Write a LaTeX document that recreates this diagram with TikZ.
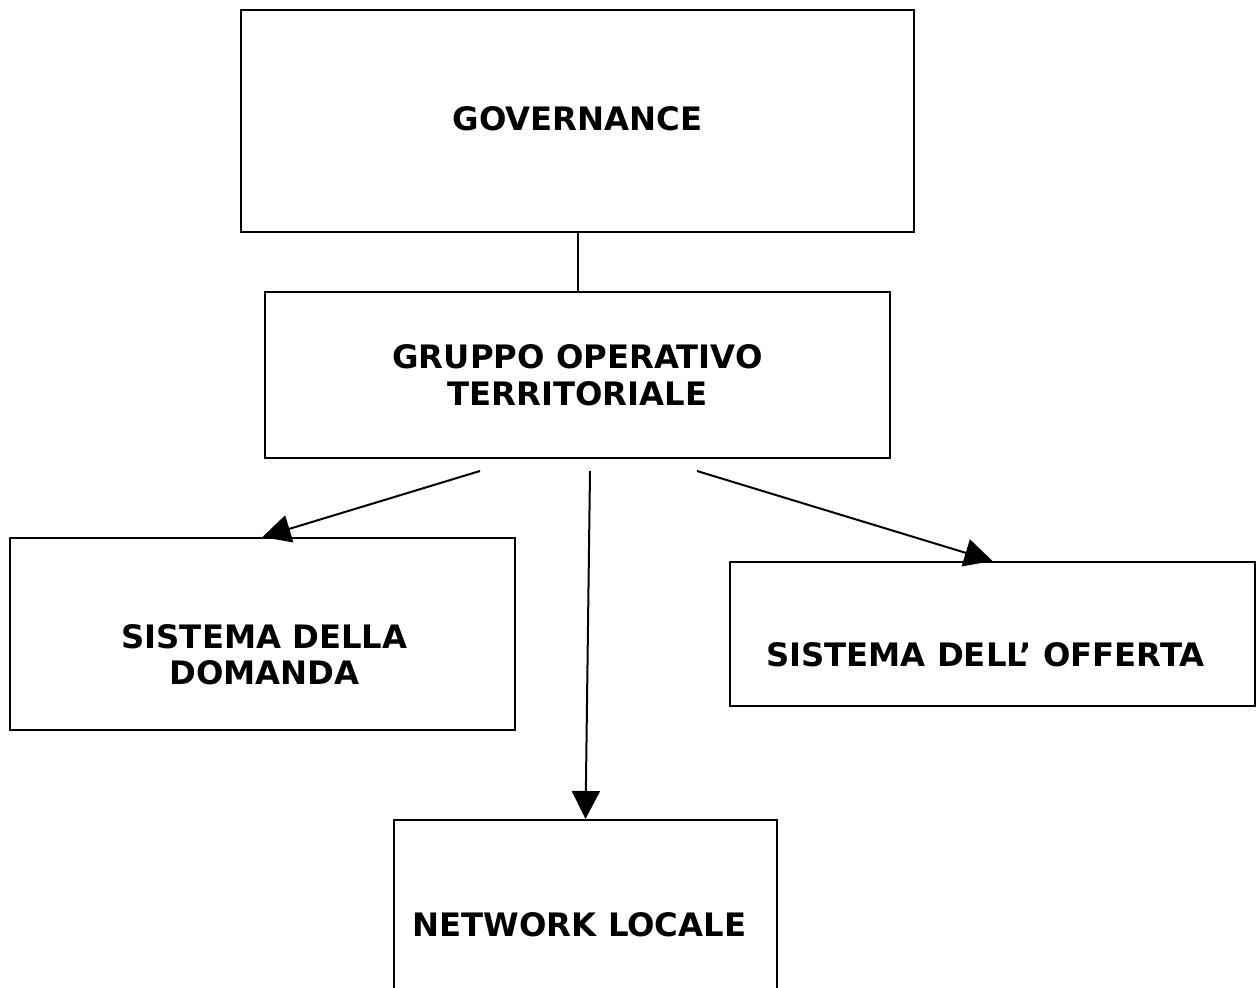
\documentclass[tikz,border=0pt]{standalone}
\usepackage{fontspec}
\setmainfont{DejaVu Sans}
\usetikzlibrary{arrows.meta,positioning}
\tikzstyle{box}=[draw, line width=2pt, align=center, inner sep=0pt, font=\bfseries\fontsize{32.3}{37}\selectfont]
\tikzstyle{lbl}=[align=center, inner sep=0pt, font=\bfseries\fontsize{32.3}{36}\selectfont]

\begin{document}
\begin{tikzpicture}[x=1pt, y=-1pt, line width=2pt, >={Triangle[length=28pt,width=28pt]}]
\clip (0,0) rectangle (1257,987);
\node[box, minimum width=673pt, minimum height=222pt] (gov) at (577.5,121) {\raisebox{5pt}{GOVERNANCE}};
\node[box, minimum width=625pt, minimum height=166pt, below=58pt of gov] (got) {GRUPPO OPERATIVO\\TERRITORIALE};
\node[box, minimum width=505pt, minimum height=192pt] (dom) at (262.5,634) {};
\node[box, minimum width=525pt, minimum height=144pt] (off) at (992.5,634) {};
\node[box, minimum width=383pt, minimum height=210pt] (net) at (585.5,925) {NETWORK LOCALE\hspace*{12pt}};
\node[lbl, yshift=-21pt, xshift=2pt] (domtxt) at (dom.center) {SISTEMA DELLA\\DOMANDA};
\node[lbl, yshift=-21pt, xshift=-7pt] (offtxt) at (off.center) {SISTEMA DELL’ OFFERTA};
\coordinate (s1) at (480,471);
\coordinate (s2) at (590,471);
\coordinate (s3) at (697,471);
\draw (gov.south) -- (got.north);
\draw[->] (s1) -- (dom.north);
\draw[->] (s2) -- (net.north);
\draw[->] (s3) -- (off.north);
\end{tikzpicture}
\end{document}
